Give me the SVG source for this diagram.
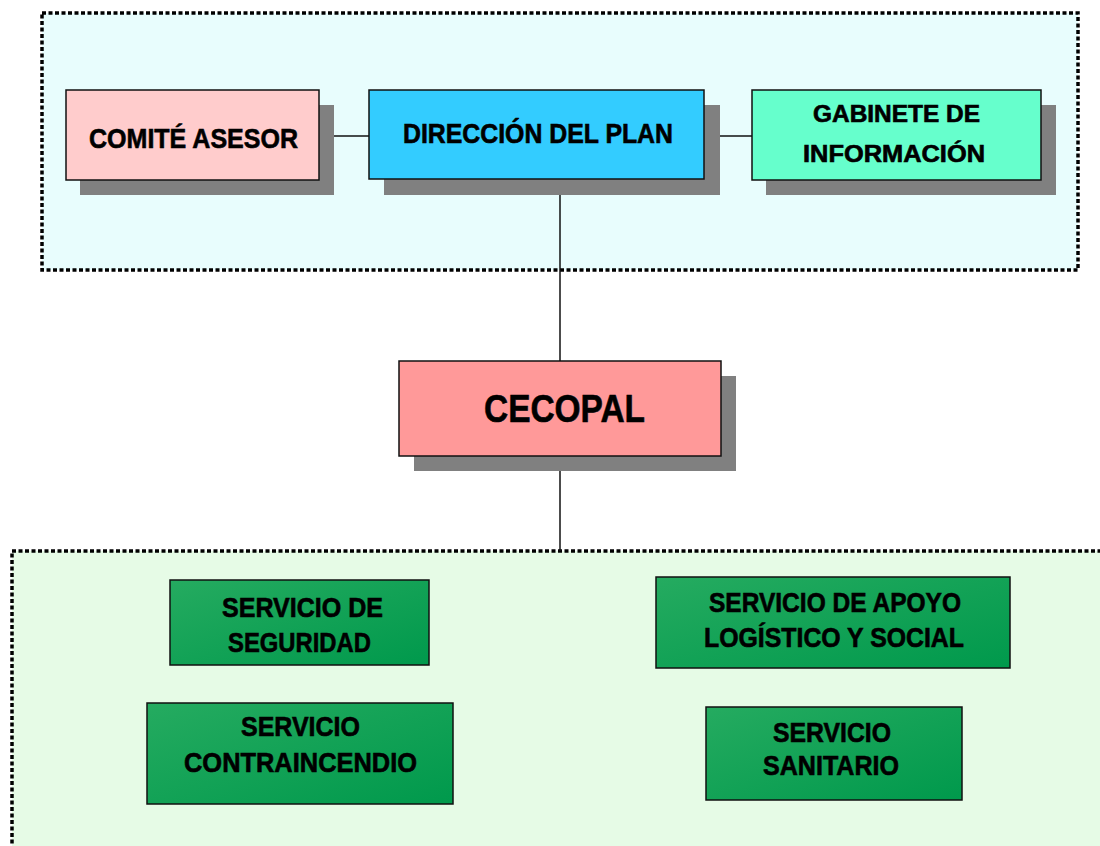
<svg xmlns="http://www.w3.org/2000/svg" width="1100" height="846" viewBox="0 0 1100 846">
<defs>
<linearGradient id="g" x1="0" y1="0" x2="1" y2="1">
<stop offset="0" stop-color="#25ab60"/>
<stop offset="1" stop-color="#00994c"/>
</linearGradient>
<style>
.frame{stroke:#000;stroke-width:3.5;stroke-dasharray:4 2.5}
.box{stroke:#111;stroke-width:1.5}
.sh{fill:#808080}
.t{font-family:"Liberation Sans",Arial,sans-serif;font-weight:bold;fill:#000;stroke:#000;stroke-width:0.6;text-anchor:middle}
.conn line{stroke:#111;stroke-width:1.5}
</style>
</defs>
<rect width="1100" height="846" fill="#fff"/>
<g id="grupo-direccion">
<rect x="42" y="13" width="1036" height="257" fill="#e8fdfd" class="frame"/>
</g>
<g id="grupo-servicios">
<rect x="12" y="551" width="1110" height="320" fill="#e6fbe6" class="frame"/>
</g>
<g class="conn" id="connectors">
<line x1="334" y1="136" x2="369" y2="136"/>
<line x1="720" y1="136" x2="752" y2="136"/>
<line x1="560" y1="195" x2="560" y2="361"/>
<line x1="560" y1="456" x2="560" y2="551"/>
</g>
<g id="comite">
<rect x="80" y="105" width="254" height="90" class="sh"/>
<rect x="66" y="90" width="253" height="90" fill="#ffcccc" class="box"/>
<text x="193.5" y="148" class="t" font-size="28" textLength="209" lengthAdjust="spacingAndGlyphs">COMITÉ ASESOR</text>
</g>
<g id="direccion">
<rect x="384" y="105" width="336" height="90" class="sh"/>
<rect x="369" y="90" width="335" height="89" fill="#33ccff" class="box"/>
<text x="538" y="143" class="t" font-size="27" textLength="270" lengthAdjust="spacingAndGlyphs">DIRECCIÓN DEL PLAN</text>
</g>
<g id="gabinete">
<rect x="766" y="105" width="290" height="90" class="sh"/>
<rect x="752" y="90" width="289" height="90" fill="#66ffcc" class="box"/>
<text x="896.5" y="122" class="t" font-size="23" textLength="167" lengthAdjust="spacingAndGlyphs">GABINETE DE</text>
<text x="894" y="162" class="t" font-size="23" textLength="182" lengthAdjust="spacingAndGlyphs">INFORMACIÓN</text>
</g>
<g id="cecopal">
<rect x="414" y="376" width="322" height="95" class="sh"/>
<rect x="399" y="361" width="322" height="95" fill="#ff9999" class="box"/>
<text x="564.5" y="422" class="t" font-size="38" textLength="161" lengthAdjust="spacingAndGlyphs">CECOPAL</text>
</g>
<g id="seguridad">
<rect x="170" y="580" width="259" height="85" fill="url(#g)" class="box"/>
<text x="302.5" y="617" class="t" font-size="27" textLength="161" lengthAdjust="spacingAndGlyphs">SERVICIO DE</text>
<text x="299.5" y="652" class="t" font-size="27" textLength="143" lengthAdjust="spacingAndGlyphs">SEGURIDAD</text>
</g>
<g id="contraincendio">
<rect x="147" y="703" width="306" height="101" fill="url(#g)" class="box"/>
<text x="300.5" y="736" class="t" font-size="27" textLength="119" lengthAdjust="spacingAndGlyphs">SERVICIO</text>
<text x="300.5" y="772" class="t" font-size="27" textLength="233" lengthAdjust="spacingAndGlyphs">CONTRAINCENDIO</text>
</g>
<g id="apoyo">
<rect x="656" y="577" width="354" height="91" fill="url(#g)" class="box"/>
<text x="835" y="612" class="t" font-size="27" textLength="252" lengthAdjust="spacingAndGlyphs">SERVICIO DE APOYO</text>
<text x="834" y="647" class="t" font-size="27" textLength="260" lengthAdjust="spacingAndGlyphs">LOGÍSTICO Y SOCIAL</text>
</g>
<g id="sanitario">
<rect x="706" y="707" width="256" height="93" fill="url(#g)" class="box"/>
<text x="832" y="742" class="t" font-size="27" textLength="118" lengthAdjust="spacingAndGlyphs">SERVICIO</text>
<text x="831" y="775" class="t" font-size="27" textLength="136" lengthAdjust="spacingAndGlyphs">SANITARIO</text>
</g>
</svg>
